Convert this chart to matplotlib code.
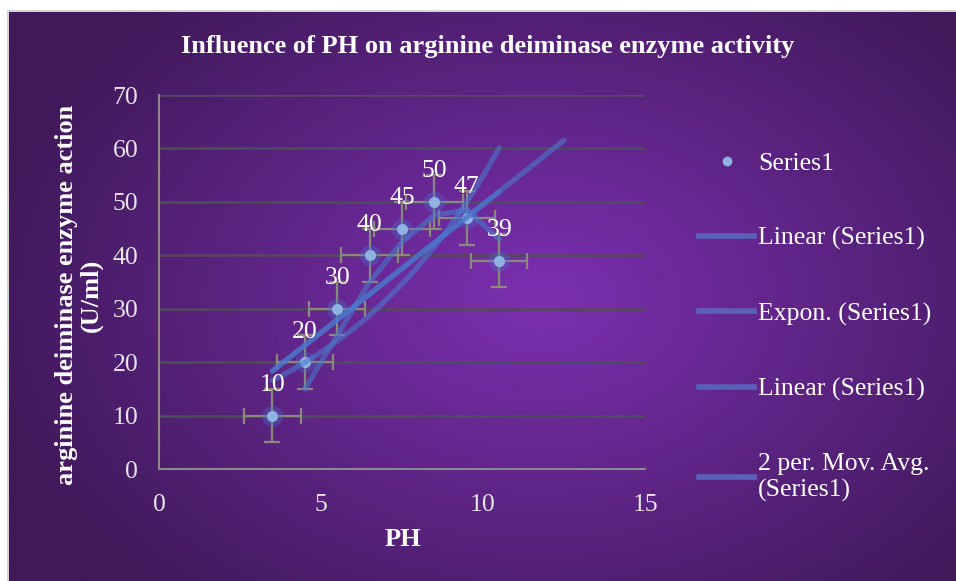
import matplotlib.pyplot as plt
from matplotlib.patches import Rectangle
from matplotlib.lines import Line2D
import numpy as np

# data
ph = [3.5, 4.5, 5.5, 6.5, 7.5, 8.5, 9.5, 10.5]
activity = [10, 20, 30, 40, 45, 50, 47, 39]
x_err = 0.87   # standard error bars (x)
y_err = 5.0    # standard error bars (y)

title = "Influence of PH on arginine deiminase enzyme activity"
x_label = "PH"
y_label = "arginine deiminase enzyme action\n(U/ml)"
legend_labels = ["Series1", "Linear (Series1)", "Expon. (Series1)",
                 "Linear (Series1)", "2 per. Mov. Avg.\n(Series1)"]

W, H = 956, 581
plt.rcParams['font.family'] = ['Liberation Serif', 'DejaVu Serif']

fig = plt.figure(figsize=(W / 100, H / 100), dpi=100, facecolor='white')

# frame border and purple gradient background
fig.patches.append(Rectangle((7 / W, 0), 1, (H - 10) / H, transform=fig.transFigure,
                             facecolor='#d4d4d4', edgecolor='none', zorder=-3))
bg = fig.add_axes([9 / W, 0, 1 - 9 / W, (H - 12) / H], zorder=-2)
bg.axis('off')
gx, gy = np.meshgrid(np.linspace(9, W, 400), np.linspace(12, H, 300))
r = np.sqrt(((gx - 540) / 560) ** 2 + ((gy - 300) / 400) ** 2)
r = np.clip(r, 0, 1)[..., None]
c_in = np.array([0x7c, 0x30, 0xb1]) / 255
c_out = np.array([0x40, 0x19, 0x5a]) / 255
img = c_in * (1 - r) + c_out * r
bg.imshow(img, aspect='auto', extent=[0, 1, 0, 1], origin='upper')
bg.set_xlim(0, 1)
bg.set_ylim(0, 1)

ax = fig.add_axes([159 / W, (H - 469) / H, (645 - 159) / W, (469 - 95) / H])
ax.set_facecolor('none')
ax.set_xlim(0, 15)
ax.set_ylim(0, 70)
ax.set_xticks([0, 5, 10, 15])
ax.set_yticks(range(0, 71, 10))
ax.yaxis.grid(True, color='#524b5c', lw=1.8)
ax.set_axisbelow(True)
for s in ['top', 'right']:
    ax.spines[s].set_visible(False)
for s in ['left', 'bottom']:
    ax.spines[s].set_color('#8a8a8a')
    ax.spines[s].set_linewidth(1.5)
ax.tick_params(length=0, labelsize=18.5, labelcolor='#e6e6e6', pad=15)
ax.tick_params(axis='x', pad=18)

line_c = '#4a78cc'
xs = np.array(ph)
ys = np.array(activity)

# error bars
ax.errorbar(ph, activity, xerr=x_err, yerr=y_err, fmt='none', ecolor='#8a8a7c',
            elinewidth=1.6, capsize=6, capthick=1.6, zorder=2)

# markers with glow
ax.plot(ph, activity, 'o', ms=15, color='#4a6fd0', alpha=0.35, mec='none', zorder=3)
ax.plot(ph, activity, 'o', ms=8, color='#8fb3e0', mec='none', zorder=4)

# trendlines
k, b = np.polyfit(xs, ys, 1)
xl = np.array([xs[0], xs[-1] + 2])
ax.plot(xl, k * xl + b, color=line_c, lw=3.8, alpha=0.6, solid_capstyle='round', zorder=5)
kb, lb = np.polyfit(xs, np.log(ys), 1)
xe = np.linspace(xs[0], xs[-1], 100)
ax.plot(xe, np.exp(lb) * np.exp(kb * xe), color=line_c, lw=3.8, alpha=0.6,
        solid_capstyle='round', zorder=5)
xl2 = np.array([xs[0], xs[-1]])
ax.plot(xl2, k * xl2 + b, color=line_c, lw=3.8, alpha=0.6, solid_capstyle='round', zorder=5)
ma = np.convolve(ys, [0.5, 0.5], mode='valid')
ax.plot(xs[1:], ma, color=line_c, lw=3.8, alpha=0.6, solid_capstyle='round',
        solid_joinstyle='round', zorder=5)

# data labels
for x, y in zip(ph, activity):
    ax.annotate(str(y), (x, y), xytext=(0, 22), textcoords='offset points',
                ha='center', va='center', color='white', fontsize=18.5, zorder=6)

fig.text(488 / W, 1 - 47 / H, title, ha='center', va='center', color='white',
         fontsize=19, fontweight='bold')
fig.text(403 / W, 1 - 540 / H, x_label, ha='center', va='center', color='white',
         fontsize=19, fontweight='bold')
fig.text(79 / W, 1 - 295 / H, y_label, ha='center', va='center', color='white',
         fontsize=19, fontweight='bold', rotation=90, linespacing=1.1)

handles = [Line2D([], [], ls='none', marker='o', ms=7, color='#8fb3e0', mec='none')]
for _ in range(4):
    handles.append(Line2D([], [], color='#5a62b8', lw=4))
leg = fig.legend(handles, legend_labels, loc='upper left',
                 bbox_to_anchor=(699 / W, 1 - 152 / H), frameon=False,
                 fontsize=18.5, labelcolor='white', handlelength=2.15,
                 handletextpad=0.15, labelspacing=2.02, borderpad=0, borderaxespad=0)
leg.get_texts()[-1].set_linespacing(1.25)

fig.savefig('out.png', dpi=100, facecolor='white')
